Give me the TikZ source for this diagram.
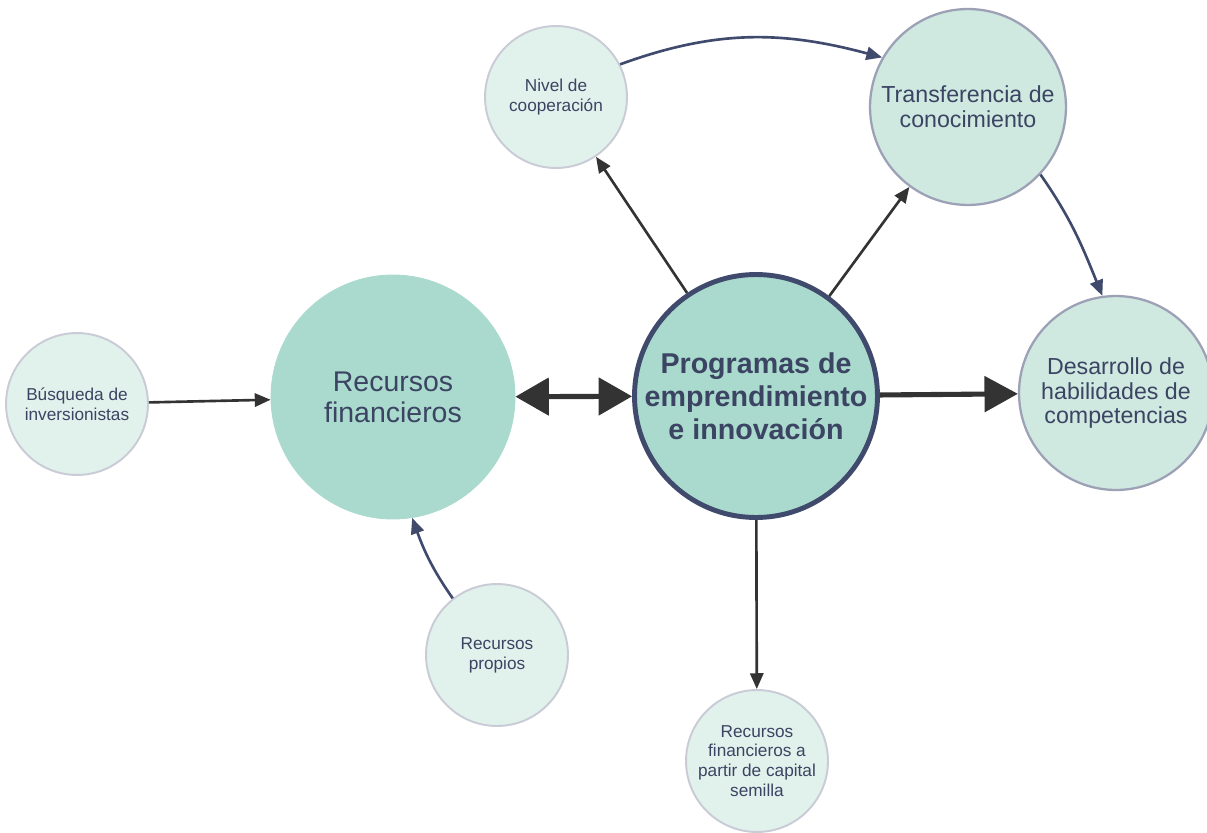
\documentclass[tikz,border=0pt]{standalone}
\usepackage{fontspec}
\setmainfont{Liberation Sans}
\usetikzlibrary{arrows.meta}

\definecolor{ink}{HTML}{3B4462}
\definecolor{corefill}{HTML}{AADACD}
\definecolor{branchfill}{HTML}{CFE8E0}
\definecolor{leaffill}{HTML}{E1F1EC}
\definecolor{leafedge}{HTML}{C9CCD6}
\definecolor{branchedge}{HTML}{9CA1B5}
\definecolor{hubedge}{HTML}{3F4A6D}
\definecolor{arrowdark}{HTML}{333333}

\tikzset{
  bubble/.style={circle, align=center, inner sep=0pt, text=ink},
  leaf/.style={bubble, draw=leafedge, fill=leaffill, line width=1.1pt,
    minimum size=2.84cm, font=\fontsize{9.8}{11.3}\selectfont},
  branch/.style={bubble, draw=branchedge, fill=branchfill, line width=1.3pt,
    font=\fontsize{13.2}{14.2}\selectfont},
  core/.style={bubble, draw=corefill, fill=corefill, line width=0.5pt,
    minimum size=4.88cm, font=\fontsize{16.2}{17.6}\selectfont},
  hub/.style={bubble, draw=hubedge, fill=corefill, line width=2.8pt,
    minimum size=4.86cm, font=\fontsize{16.3}{18.7}\selectfont\bfseries},
  link/.style={draw=arrowdark, line width=1.5pt, -{Triangle[length=9pt, width=7.5pt]}},
  flow/.style={draw=hubedge, line width=1.5pt, -{Triangle[length=9pt, width=7.5pt]}},
  heavy/.style={draw=arrowdark, line width=2.9pt}
}

\begin{document}
\begin{tikzpicture}[x=0.02cm, y=-0.02cm]
  \useasboundingbox (0,0) rectangle (1207,832);
  \node [hub] at (756,396) (prog) {Programas de\\emprendimiento\\e innovación};
  \node [core] at (393,397) (recfin) {Recursos\\financieros};
  \node [leaf] at (77,404) (busq) {Búsqueda de\\inversionistas};
  \node [leaf] at (556,97) (nivel) {Nivel de\\cooperación};
  \node [branch, minimum size=3.92cm] at (968,107) (transf) {Transferencia de\\conocimiento};
  \node [branch, minimum size=3.88cm] at (1116,393) (desar) {Desarrollo de\\habilidades de\\competencias};
  \node [leaf] at (497,655) (propios) {Recursos\\propios};
  \node [leaf] at (757,761) (semilla) {Recursos\\financieros a\\partir de capital\\semilla};

  \draw [link] (busq) -- (recfin);
  \draw [link] (prog) -- (nivel);
  \draw [link] (prog) -- (transf);
  \draw [link] (prog) -- (semilla);
  \draw [heavy, {Triangle[length=19pt, width=21pt]}-{Triangle[length=19pt, width=21pt]}] (recfin) -- (prog);
  \draw [heavy, -{Triangle[length=19pt, width=20pt]}] (prog) -- (desar);

  \draw [flow] (nivel.27) to [out=20, in=165] (transf.150);
  \draw [flow] (transf.-43) to [out=-55, in=112] (desar.98);
  \draw [flow] (propios.128) to [out=125, in=-70] (recfin.-81);
\end{tikzpicture}
\end{document}
